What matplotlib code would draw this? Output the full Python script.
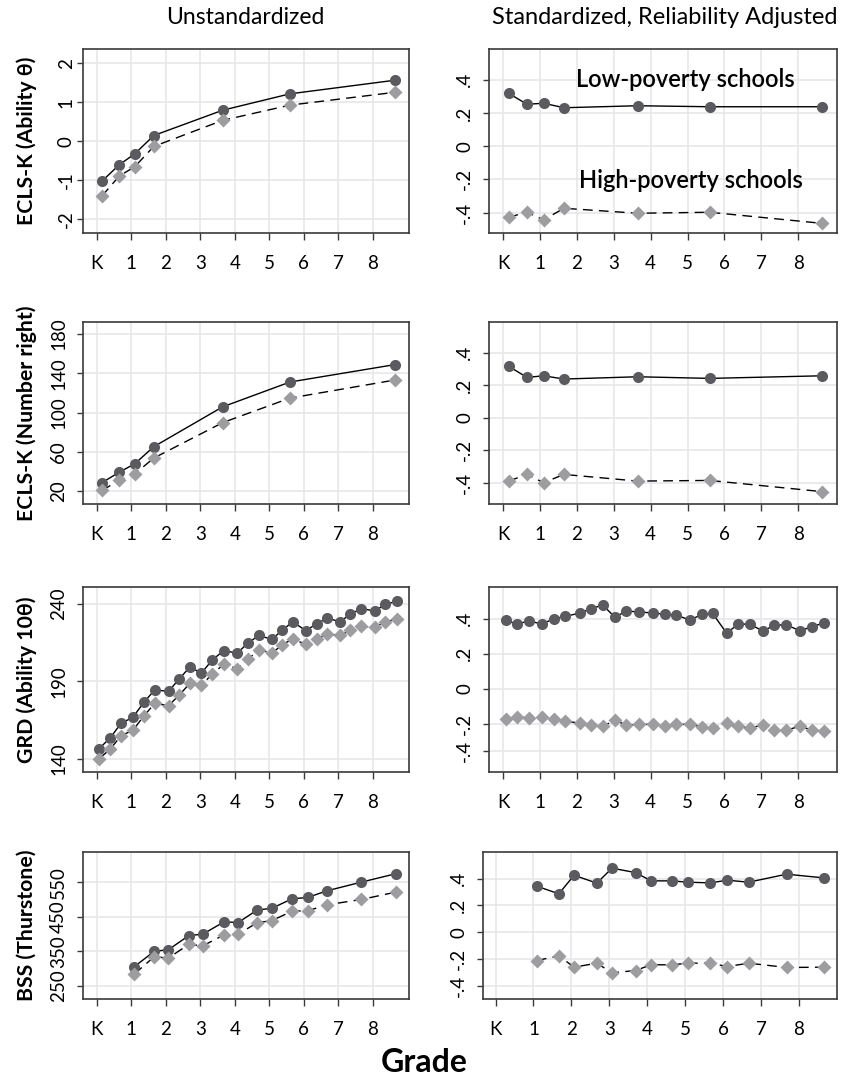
import matplotlib
matplotlib.use("Agg")
import matplotlib.pyplot as plt

plt.rcParams['font.family'] = ['Lato', 'DejaVu Sans']

# grade positions (K = 0)
ecls_x = [0.15, 0.65, 1.1, 1.65, 3.65, 5.6, 8.65]
grd_x = [0.07, 0.39, 0.7, 1.05, 1.37, 1.68, 2.08, 2.39, 2.7, 3.03, 3.34, 3.68,
         4.07, 4.38, 4.7, 5.07, 5.38, 5.68, 6.06, 6.37, 6.68, 7.05, 7.35, 7.67,
         8.06, 8.36, 8.69]
bss_x = [1.09, 1.67, 2.07, 2.67, 3.07, 3.69, 4.1, 4.64, 5.08, 5.66, 6.11, 6.67,
         7.67, 8.66]

# ECLS-K, ability theta
ecls_theta_low = [-1.02, -0.6, -0.32, 0.15, 0.8, 1.22, 1.57]
ecls_theta_high = [-1.4, -0.89, -0.65, -0.13, 0.54, 0.93, 1.26]
ecls_theta_low_std = [0.319, 0.253, 0.259, 0.232, 0.244, 0.238, 0.238]
ecls_theta_high_std = [-0.428, -0.398, -0.444, -0.374, -0.404, -0.398, -0.465]

# ECLS-K, number right
ecls_nr_low = [28.5, 39.1, 47.7, 65.1, 105.8, 131.1, 148.9]
ecls_nr_high = [20.5, 30.9, 37.4, 53.5, 89.7, 114.7, 133.2]
ecls_nr_low_std = [0.316, 0.247, 0.257, 0.237, 0.251, 0.241, 0.257]
ecls_nr_high_std = [-0.391, -0.35, -0.401, -0.35, -0.391, -0.387, -0.456]

# GRD, ability 10 theta
grd_low = [146.5, 153.4, 162.7, 166.8, 176.6, 184.4, 183.5, 191.5, 199.3, 195.2,
           203.6, 209.9, 208.2, 214.7, 219.7, 217.1, 223.1, 228.5, 222.7, 227.2,
           230.9, 228.5, 233.5, 237.0, 235.5, 239.8, 241.7]
grd_high = [140.0, 146.1, 154.7, 158.4, 167.7, 175.7, 174.2, 181.1, 188.7, 187.4,
            194.5, 201.0, 198.2, 204.3, 210.3, 208.2, 213.6, 217.5, 213.8, 217.3,
            220.5, 219.7, 222.9, 225.5, 225.1, 228.3, 230.3]
grd_low_std = [0.390, 0.369, 0.388, 0.369, 0.399, 0.413, 0.432, 0.457, 0.478, 0.409,
               0.443, 0.439, 0.432, 0.426, 0.420, 0.392, 0.424, 0.430, 0.317, 0.369,
               0.369, 0.329, 0.363, 0.365, 0.330, 0.355, 0.374]
grd_high_std = [-0.174, -0.160, -0.168, -0.159, -0.172, -0.185, -0.197, -0.206, -0.216,
                -0.180, -0.208, -0.204, -0.204, -0.212, -0.204, -0.204, -0.218, -0.225,
                -0.197, -0.216, -0.224, -0.208, -0.235, -0.237, -0.214, -0.237, -0.241]

# BSS, Thurstone
bss_low = [305.3, 350, 354, 395.6, 399.5, 435.4, 433.5, 469.4, 475.2, 502.4, 506.3,
           525.7, 551, 575.2]
bss_high = [284, 334.5, 329.6, 370.4, 365.5, 397.6, 399.5, 432.5, 439.3, 466.5, 467.5,
            485, 500.5, 521.8]
bss_low_std = [0.344, 0.287, 0.426, 0.367, 0.479, 0.446, 0.384, 0.384, 0.374, 0.369,
               0.389, 0.374, 0.434, 0.406]
bss_high_std = [-0.212, -0.177, -0.262, -0.232, -0.304, -0.287, -0.244, -0.244, -0.232,
                -0.232, -0.257, -0.232, -0.264, -0.262]

grade_ticks = [0, 1, 2, 3, 4, 5, 6, 7, 8]
grade_labels = ["K", "1", "2", "3", "4", "5", "6", "7", "8"]
std_ticks = [-0.4, -0.2, 0, 0.2, 0.4]
std_labels = ["-.4", "-.2", "0", ".2", ".4"]

dark = "#5b5b5f"
light = "#9d9da0"
W, H = 844, 1089

fig = plt.figure(figsize=(W / 100, H / 100), dpi=100)


def make_ax(x0, x1, y0, y1, xlim, ylim, yticks, ylabels, ypad):
    ax = fig.add_axes([x0 / W, 1 - y1 / H, (x1 - x0) / W, (y1 - y0) / H])
    ax.set_xlim(*xlim)
    ax.set_ylim(*ylim)
    ax.set_xticks(grade_ticks)
    ax.set_xticklabels(grade_labels)
    ax.set_yticks(yticks)
    ax.set_yticklabels(ylabels, rotation=90, va="center")
    ax.grid(True, color="#e6e6e8", lw=1.1)
    ax.set_axisbelow(True)
    for s in ax.spines.values():
        s.set_color("#3a3a3a")
        s.set_linewidth(1.2)
    ax.tick_params(axis="x", length=5, width=1, color="#3a3a3a", pad=11, labelsize=13.5)
    ax.tick_params(axis="y", length=4.5, width=1, color="#3a3a3a", pad=ypad, labelsize=13.5)
    return ax


def draw(ax, x, low, high):
    ax.plot(x, low, color="black", lw=1, zorder=2)
    ax.plot(x, high, color="black", lw=1, dashes=(7, 4.5), zorder=2)
    ax.plot(x, low, "o", color=dark, ms=8, mec="none", zorder=3)
    ax.plot(x, high, "D", color=light, ms=7, mec="none", zorder=3)


LX = (83, 409)
RX = (489, 837)
rows = [(49, 233), (322, 504), (587, 772), (852, 999)]

# row 1
ax = make_ax(*LX, *rows[0], (-0.4, 9.05), (-2.35, 2.37), [-2, -1, 0, 1, 2],
             ["-2", "-1", "0", "1", "2"], 1.5)
draw(ax, ecls_x, ecls_theta_low, ecls_theta_high)
ax = make_ax(*RX, *rows[0], (-0.38, 9.05), (-0.523, 0.586), std_ticks, std_labels, 7)
draw(ax, ecls_x, ecls_theta_low_std, ecls_theta_high_std)
ax.text(1.97, 0.4, "Low-poverty schools", fontsize=17, fontweight="semibold", va="center")
ax.text(2.06, -0.205, "High-poverty schools", fontsize=17, fontweight="semibold", va="center")

# row 2
ax = make_ax(*LX, *rows[1], (-0.4, 9.05), (6.7, 192.3), [20, 60, 100, 140, 180],
             ["20", "60", "100", "140", "180"], 7)
draw(ax, ecls_x, ecls_nr_low, ecls_nr_high)
ax = make_ax(*RX, *rows[1], (-0.38, 9.05), (-0.532, 0.588), std_ticks, std_labels, 7)
draw(ax, ecls_x, ecls_nr_low_std, ecls_nr_high_std)

# row 3
ax = make_ax(*LX, *rows[2], (-0.4, 9.05), (131.3, 251), [140, 190, 240],
             ["140", "190", "240"], 7)
draw(ax, grd_x, grd_low, grd_high)
ax = make_ax(*RX, *rows[2], (-0.38, 9.05), (-0.476, 0.581),
             [-0.355, -0.2, 0, 0.2, 0.4], std_labels, 7)
draw(ax, grd_x, grd_low_std, grd_high_std)

# row 4
ax = make_ax(*LX, *rows[3], (-0.4, 9.05), (211, 638.6), [250, 350, 450, 550],
             ["250", "350", "450", "550"], 7)
draw(ax, bss_x, bss_low, bss_high)
ax = make_ax(483, 837, *rows[3], (-0.33, 9.0), (-0.5, 0.6), std_ticks, std_labels, 7)
draw(ax, bss_x, bss_low_std, bss_high_std)

ylabels = ["ECLS-K (Ability θ)", "ECLS-K (Number right)", "GRD (Ability 10θ)",
           "BSS (Thurstone)"]
for lab, (y0, y1) in zip(ylabels, rows):
    fig.text(27 / W, 1 - (y0 + y1) / 2 / H, lab, rotation=90, ha="center", va="center",
             fontsize=15.3, fontweight="bold")

fig.text(245 / W, 1 - 18 / H, "Unstandardized", ha="center", va="center", fontsize=16.5)
fig.text(665 / W, 1 - 18 / H, "Standardized, Reliability Adjusted", ha="center",
         va="center", fontsize=17)
fig.text(424 / W, 1 - 1062 / H, "Grade", ha="center", va="center", fontsize=23,
         fontweight="bold")

fig.savefig("out.png", dpi=100)
